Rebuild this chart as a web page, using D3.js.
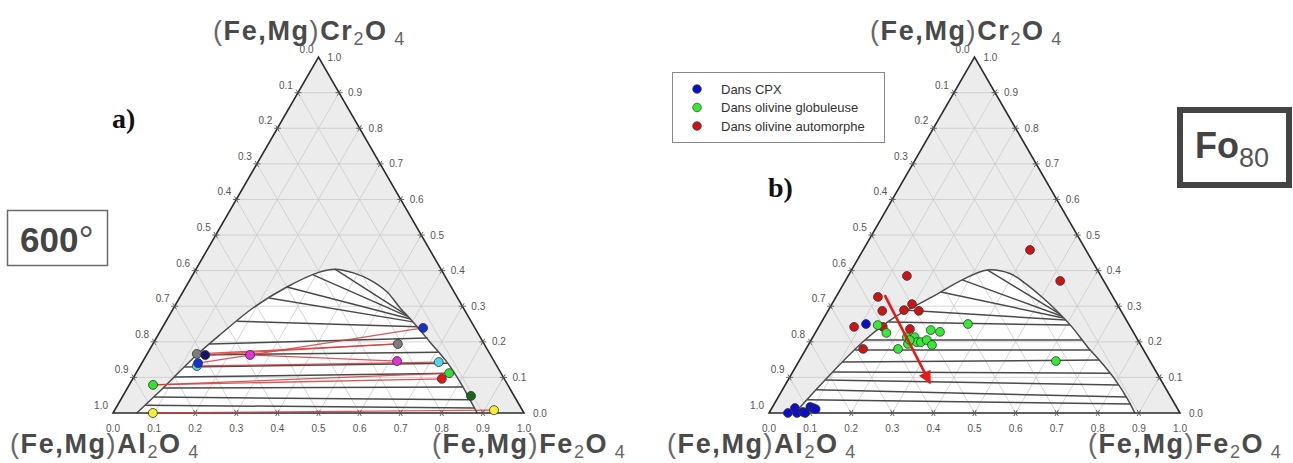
<!DOCTYPE html>
<html>
<head>
<meta charset="utf-8">
<script src="https://cdn.jsdelivr.net/npm/d3@7"></script>
<style>
body { margin: 0; background: #fff; }
svg { display: block; font-family: "Liberation Sans", Arial, sans-serif; }
</style>
</head>
<body>
<svg id="chart" width="1293" height="463"></svg>
<script>

// ternary values: f = (Fe,Mg)Fe2O4 fraction, c = (Fe,Mg)Cr2O4 fraction

var tickLabels = ["0.0", "0.1", "0.2", "0.3", "0.4", "0.5", "0.6", "0.7", "0.8", "0.9", "1.0"];
var gridValues = [0.1, 0.2, 0.3, 0.4, 0.5, 0.6, 0.7, 0.8, 0.9];

// solvus, panel a (600°)
var domeA = [[0.058,0],[0.087,0.070],[0.118,0.154],[0.150,0.219],[0.193,0.295],[0.246,0.354],
	[0.303,0.395],[0.338,0.404],[0.390,0.393],[0.438,0.374],[0.497,0.340],[0.551,0.295],
	[0.602,0.256],[0.672,0.199],[0.741,0.143],[0.801,0.087],[0.886,0]];

// tie lines [f1, c1, f2, c2]
var tiesA = [
	[0.338,0.404,0.577,0.275],
	[0.293,0.388,0.584,0.270],
	[0.246,0.354,0.592,0.264],
	[0.218,0.323,0.602,0.256],
	[0.172,0.258,0.619,0.242],
	[0.138,0.194,0.660,0.211],
	[0.122,0.163,0.706,0.171],
	[0.109,0.129,0.744,0.140],
	[0.098,0.101,0.774,0.112],
	[0.087,0.070,0.815,0.073],
	[0.077,0.045,0.850,0.037],
	[0.067,0.022,0.872,0.014]
];

// solvus, panel b (Fo80)
var domeB = [[0.063,0],[0.090,0.093],[0.131,0.205],[0.172,0.270],[0.234,0.326],[0.283,0.374],
	[0.330,0.402],[0.390,0.392],[0.440,0.365],[0.501,0.326],[0.561,0.284],[0.616,0.242],
	[0.683,0.185],[0.740,0.140],[0.796,0.093],[0.855,0.037],[0.890,0]];

var tiesB = [
	[0.330,0.402,0.569,0.278],
	[0.283,0.374,0.577,0.272],
	[0.248,0.340,0.583,0.267],
	[0.193,0.289,0.591,0.261],
	[0.163,0.256,0.609,0.247],
	[0.131,0.205,0.659,0.205],
	[0.121,0.177,0.693,0.177],
	[0.108,0.143,0.729,0.149],
	[0.098,0.115,0.774,0.112],
	[0.090,0.093,0.811,0.079],
	[0.082,0.065,0.847,0.045],
	[0.074,0.037,0.868,0.025]
];

// panel a: coexisting spinel pairs
var pairPoints = [
	{id: "greyL",  colour: "#7c7c7c", f: 0.121, c: 0.166},
	{id: "navyL",  colour: "#14146e", f: 0.143, c: 0.163},
	{id: "cyanL",  colour: "#52d6e6", f: 0.138, c: 0.132},
	{id: "blueL",  colour: "#1432d2", f: 0.137, c: 0.140},
	{id: "magL",   colour: "#e032d8", f: 0.252, c: 0.163},
	{id: "greenL", colour: "#32e032", f: 0.058, c: 0.079},
	{id: "yellL",  colour: "#f2f032", f: 0.097, c: 0.000},
	{id: "blueR",  colour: "#1432d2", f: 0.635, c: 0.239},
	{id: "greyR",  colour: "#7c7c7c", f: 0.596, c: 0.194},
	{id: "magR",   colour: "#e032d8", f: 0.618, c: 0.146},
	{id: "cyanR",  colour: "#52d6e6", f: 0.721, c: 0.143},
	{id: "greenR", colour: "#32e032", f: 0.762, c: 0.112},
	{id: "redR",   colour: "#e01818", f: 0.752, c: 0.096},
	{id: "dkgrR",  colour: "#1a6a1a", f: 0.847, c: 0.048},
	{id: "yellR",  colour: "#f2f032", f: 0.923, c: 0.008}
];

var pairLinks = [
	["navyL", "greyR"], ["greyL", "greyR"], ["magL", "magR"], ["blueL", "blueR"],
	["cyanL", "cyanR"], ["greenL", "greenR"], ["greenL", "redR"], ["yellL", "yellR"]
];

// panel b: analyses
var cpxPoints = [[0.111,0.250],[0.046,0],[0.056,0.014],[0.068,0],[0.081,0.003],[0.088,0],
	[0.092,0.017],[0.100,0.014],[0.108,0.011]];
var globPoints = [[0.141,0.247],[0.173,0.225],[0.224,0.180],[0.229,0.213],[0.241,0.194],
	[0.248,0.213],[0.260,0.199],[0.270,0.199],[0.281,0.205],[0.301,0.191],[0.277,0.233],
	[0.302,0.228],[0.359,0.250],[0.240,0.205],[0.625,0.146]];
var autoPoints = [[0.143,0.385],[0.102,0.326],[0.195,0.306],[0.132,0.287],[0.184,0.289],
	[0.221,0.287],[0.086,0.242],[0.156,0.242],[0.225,0.236],[0.139,0.180],[0.406,0.458],
	[0.523,0.371]];
var trendArrow = [[0.116,0.331],[0.350,0.084]];

var legendNames = ["Dans CPX", "Dans olivine globuleuse", "Dans olivine automorphe"];
var legendColours = ["#0c0ccc", "#34ea34", "#cc1414"];

var W = 411, H = W * Math.sqrt(3) / 2, BASE = 413;

var svg = d3.select("#chart");

var defs = svg.append("defs");
defs.append("marker")
	.attr("id", "arrowHead")
	.attr("viewBox", "0 0 10 10")
	.attr("refX", 9).attr("refY", 5)
	.attr("markerWidth", 6).attr("markerHeight", 5)
	.attr("markerUnits", "strokeWidth")
	.attr("orient", "auto")
	.append("path")
	.attr("d", "M0,0L10,5L0,10z")
	.attr("fill", "#e41a1a");

function drawPanel(x0, dome, ties) {

	var g = svg.append("g");

	var x = d3.scaleLinear().domain([0, 1]).range([x0, x0 + W]);
	var y = d3.scaleLinear().domain([0, 1]).range([BASE, BASE - H]);

	var px = function (f, c) { return [x(f + c / 2), y(c)]; };

	var line = d3.line();

	// triangle background
	g.append("path")
	.attr("d", line([px(0, 0), px(1, 0), px(0, 1)]) + "Z")
	.attr("fill", "#ececec");

	// white miscibility gap
	var domePath = d3.line().curve(d3.curveCatmullRom.alpha(0.5))(dome.map(function (d) { return px(d[0], d[1]); }));

	g.append("path")
	.attr("d", domePath + "Z")
	.attr("fill", "#fff");

	// grid
	var grid = [];
	gridValues.forEach(function (v) {
		grid.push([px(0, v), px(1 - v, v)]);
		grid.push([px(v, 0), px(v, 1 - v)]);
		grid.push([px(1 - v, 0), px(0, 1 - v)]);
	});

	g.selectAll(".grid")
	.data(grid)
	.enter().append("path")
	.attr("class", "grid")
	.attr("d", function (d) { return line(d); })
	.attr("stroke", "#cacaca")
	.attr("stroke-width", 0.8)
	.attr("fill", "none");

	// tie lines
	g.selectAll(".tie")
	.data(ties)
	.enter().append("path")
	.attr("class", "tie")
	.attr("d", function (d) { return line([px(d[0], d[1]), px(d[2], d[3])]); })
	.attr("stroke", "#4a4a4a")
	.attr("stroke-width", 1.5)
	.attr("fill", "none");

	g.append("path")
	.attr("d", domePath)
	.attr("stroke", "#4a4a4a")
	.attr("stroke-width", 1.5)
	.attr("fill", "none");

	// frame
	g.append("path")
	.attr("d", line([px(0, 0), px(1, 0), px(0, 1)]) + "Z")
	.attr("stroke", "#2a2a2a")
	.attr("stroke-width", 1.6)
	.attr("fill", "none");

	// ticks and labels
	var tickLen = 3.5;
	var dirs = {
		h: [1, 0],
		up: [0.5, -Math.sqrt(3) / 2],
		down: [0.5, Math.sqrt(3) / 2]
	};

	function tick(p, d1, d2) {
		[d1, d2].forEach(function (d) {
			g.append("path")
			.attr("d", line([[p[0] - d[0] * tickLen, p[1] - d[1] * tickLen], [p[0] + d[0] * tickLen, p[1] + d[1] * tickLen]]))
			.attr("stroke", "#555")
			.attr("stroke-width", 0.9);
		});
	}

	var labelStyle = function (sel) {
		sel.attr("font-size", 10).attr("fill", "#555");
	};

	tickLabels.forEach(function (t, i) {

		var v = i / 10;

		// left side : Al fraction
		var pl = px(0, 1 - v);
		if (i > 0 && i < 10) tick(pl, dirs.h, dirs.down);
		g.append("text").call(labelStyle)
		.attr("x", pl[0] - 5).attr("y", pl[1] - 4)
		.attr("text-anchor", "end")
		.text(t);

		// right side : Cr fraction
		var pr = px(1 - v, v);
		if (i > 0 && i < 10) tick(pr, dirs.h, dirs.up);
		g.append("text").call(labelStyle)
		.attr("x", pr[0] + 9).attr("y", pr[1] + 3.5)
		.text(t);

		// bottom : Fe3+ fraction
		var pb = px(v, 0);
		if (i > 0 && i < 10) tick(pb, dirs.up, dirs.down);
		g.append("text").call(labelStyle)
		.attr("x", pb[0]).attr("y", pb[1] + 19)
		.attr("text-anchor", "middle")
		.text(t);
	});

	return {g: g, px: px};
}

function formula(xPos, yPos, element) {

	var t = svg.append("text")
	.attr("x", xPos).attr("y", yPos)
	.attr("font-size", 27)
	.attr("letter-spacing", 1.6)
	.attr("fill", "#4a4a4a");

	t.append("tspan").attr("font-weight", "normal").attr("fill", "#666").text("(");
	t.append("tspan").attr("font-weight", "bold").text("Fe,Mg");
	t.append("tspan").attr("font-weight", "normal").attr("fill", "#666").text(")");
	t.append("tspan").attr("font-weight", "bold").text(element);
	t.append("tspan").attr("font-size", 18).attr("dy", 5).attr("fill", "#666").text("2");
	t.append("tspan").attr("font-weight", "bold").attr("dy", -5).text("O");
	t.append("tspan").attr("font-size", 18).attr("dy", 5).attr("fill", "#666").text("\u00a04");
}

// ---- panel a
var panelA = drawPanel(113, domeA, tiesA);

var byId = {};
pairPoints.forEach(function (d) { byId[d.id] = d; });

panelA.g.selectAll(".link")
.data(pairLinks)
.enter().append("path")
.attr("class", "link")
.attr("d", function (d) {
	var a = byId[d[0]], b = byId[d[1]];
	return d3.line()([panelA.px(a.f, a.c), panelA.px(b.f, b.c)]);
})
.attr("stroke", "#d63a3a")
.attr("stroke-width", 1.3)
.attr("stroke-opacity", 0.85)
.attr("fill", "none");

panelA.g.selectAll(".pair")
.data(pairPoints)
.enter().append("circle")
.attr("class", "pair")
.attr("cx", function (d) { return panelA.px(d.f, d.c)[0]; })
.attr("cy", function (d) { return panelA.px(d.f, d.c)[1]; })
.attr("r", 4.5)
.attr("fill", function (d) { return d.colour; })
.attr("stroke", "#333")
.attr("stroke-width", 0.8);

// ---- panel b
var panelB = drawPanel(769, domeB, tiesB);

[autoPoints, globPoints, cpxPoints].forEach(function (set, k) {
	var colour = [legendColours[2], legendColours[1], legendColours[0]][k];
	panelB.g.selectAll(".s" + k)
	.data(set)
	.enter().append("circle")
	.attr("class", "s" + k)
	.attr("cx", function (d) { return panelB.px(d[0], d[1])[0]; })
	.attr("cy", function (d) { return panelB.px(d[0], d[1])[1]; })
	.attr("r", 4.4)
	.attr("fill", colour)
	.attr("stroke", "#333")
	.attr("stroke-width", 0.8);
});

panelB.g.append("path")
.attr("d", d3.line()(trendArrow.map(function (d) { return panelB.px(d[0], d[1]); })))
.attr("stroke", "#e41a1a")
.attr("stroke-width", 2.6)
.attr("fill", "none")
.attr("marker-end", "url(#arrowHead)");

// ---- end member labels
formula(213, 40, "Cr");
formula(10, 453, "Al");
formula(432, 453, "Fe");
formula(870, 40, "Cr");
formula(667, 453, "Al");
formula(1088, 453, "Fe");

// ---- panel letters
svg.append("text")
.attr("x", 112).attr("y", 128)
.attr("font-family", "'Liberation Serif', 'Times New Roman', serif")
.attr("font-weight", "bold")
.attr("font-size", 28)
.attr("fill", "#111")
.text("a)");

svg.append("text")
.attr("x", 768).attr("y", 197)
.attr("font-family", "'Liberation Serif', 'Times New Roman', serif")
.attr("font-weight", "bold")
.attr("font-size", 28)
.attr("fill", "#111")
.text("b)");

// ---- 600° box
svg.append("rect")
.attr("x", 7.5).attr("y", 210.5)
.attr("width", 100).attr("height", 55)
.attr("fill", "#fff")
.attr("stroke", "#6a6a6a")
.attr("stroke-width", 1.5);

var tempText = svg.append("text")
.attr("x", 20).attr("y", 252)
.attr("font-size", 35)
.attr("font-weight", "bold")
.attr("fill", "#444");
tempText.append("tspan").text("600");
tempText.append("tspan").attr("font-weight", "normal").attr("font-size", 38).attr("dy", 1).attr("fill", "#555").text("°");

// ---- Fo80 box
svg.append("rect")
.attr("x", 1180).attr("y", 110)
.attr("width", 109).attr("height", 75)
.attr("fill", "#fff")
.attr("stroke", "#444")
.attr("stroke-width", 6);

var foText = svg.append("text")
.attr("x", 1195).attr("y", 158)
.attr("font-size", 36)
.attr("font-weight", "bold")
.attr("fill", "#444");
foText.append("tspan").text("Fo");
foText.append("tspan").attr("font-weight", "normal").attr("font-size", 27).attr("dy", 9).attr("fill", "#555").text("80");

// ---- legend
var legend = svg.append("g");

legend.append("rect")
.attr("x", 672.5).attr("y", 72.5)
.attr("width", 212).attr("height", 70)
.attr("fill", "#fff")
.attr("stroke", "#888")
.attr("stroke-width", 1);

var legendRows = legend.selectAll(".row")
.data(legendNames)
.enter().append("g")
.attr("class", "row")
.attr("transform", function (d, i) { return "translate(0," + (89 + i * 18.5) + ")"; });

legendRows.append("circle")
.attr("cx", 697).attr("cy", 0)
.attr("r", 4.3)
.attr("fill", function (d, i) { return legendColours[i]; })
.attr("stroke", "#333")
.attr("stroke-width", 0.7);

legendRows.append("text")
.attr("x", 721).attr("y", 4.5)
.attr("font-size", 13)
.attr("fill", "#333")
.text(function (d) { return d; });

</script>
</body>
</html>
